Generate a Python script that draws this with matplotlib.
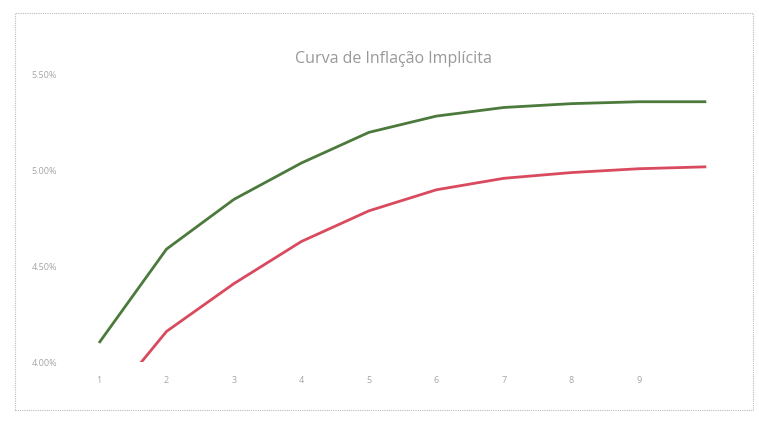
import matplotlib.pyplot as plt
from matplotlib.patches import Rectangle
from matplotlib.ticker import FuncFormatter

# dados (anos / taxa implicita em %)
anos = [1, 2, 3, 4, 5, 6, 7, 8, 9, 10]
curva_verde = [4.10, 4.59, 4.85, 5.04, 5.20, 5.285, 5.33, 5.35, 5.36, 5.36]
curva_vermelha = [3.73, 4.16, 4.41, 4.63, 4.79, 4.90, 4.96, 4.99, 5.01, 5.02]
rotulos_x = ['1', '2', '3', '4', '5', '6', '7', '8', '9']

plt.rcParams['font.family'] = ['Open Sans', 'DejaVu Sans']

fig = plt.figure(figsize=(7.59, 4.21), dpi=100)
fig.patch.set_facecolor('white')

# moldura do grafico
fig.patches.append(Rectangle((0.02, 0.025), 0.972, 0.945, transform=fig.transFigure,
                             fill=False, edgecolor='#bcbcbc', linewidth=0.8,
                             linestyle=(0, (1, 1))))

ax = fig.add_axes([0.086, 0.140, 0.889, 0.682])

ax.plot(anos, curva_verde, color='#4b7a3c', linewidth=2.0, solid_capstyle='butt')
ax.plot(anos, curva_vermelha, color='#d94a5e', linewidth=2.0, solid_capstyle='butt')

ax.set_xlim(0.5, 10.5)
ax.set_ylim(4.0, 5.5)
ax.set_yticks([4.0, 4.5, 5.0, 5.5])
ax.yaxis.set_major_formatter(FuncFormatter(lambda v, p: '%.2f%%' % v))
ax.set_xticks(range(1, 10))
ax.set_xticklabels(rotulos_x)

for s in ax.spines.values():
    s.set_visible(False)
ax.tick_params(axis='both', length=0, labelsize=6.5, labelcolor='#a5a5a5')
ax.tick_params(axis='x', pad=10)
ax.tick_params(axis='y', pad=6)

fig.text(0.518, 0.860, 'Curva de Inflação Implícita', ha='center', va='center',
         fontsize=11.5, color='#999999')

plt.savefig('out.png', dpi=100)
